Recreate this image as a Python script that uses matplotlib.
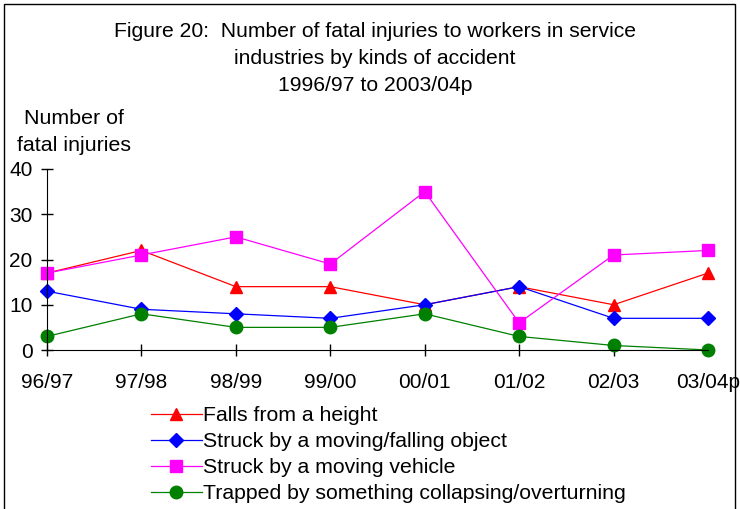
import numpy as np
import matplotlib.pyplot as plt
from matplotlib.patches import Rectangle

years = ['96/97', '97/98', '98/99', '99/00', '00/01', '01/02', '02/03', '03/04p']
falls = [17, 22, 14, 14, 10, 14, 10, 17]
struck_object = [13, 9, 8, 7, 10, 14, 7, 7]
struck_vehicle = [17, 21, 25, 19, 35, 6, 21, 22]
trapped = [3, 8, 5, 5, 8, 3, 1, 0]

plt.rcParams['font.family'] = ['Liberation Sans', 'DejaVu Sans']

fig = plt.figure(figsize=(7.4, 5.09), dpi=100)
ax = fig.add_axes([47/740, 1-350/509, (708-47)/740, (350-169)/509])

x = np.arange(len(years))
ax.plot(x, falls, color='red', marker='^', markersize=9, lw=0.9, clip_on=False,
        label='Falls from a height')
ax.plot(x, struck_object, color='blue', marker='D', markersize=7.5, lw=0.9, clip_on=False,
        label='Struck by a moving/falling object')
ax.plot(x, struck_vehicle, color='magenta', marker='s', markersize=9, lw=0.9, clip_on=False,
        label='Struck by a moving vehicle')
ax.plot(x, trapped, color='green', marker='o', markersize=9, lw=0.9, clip_on=False,
        label='Trapped by something collapsing/overturning')

ax.set_xlim(0, 7)
ax.set_ylim(0, 40)
ax.set_xticks(x)
ax.set_xticklabels(years)
ax.set_yticks([0, 10, 20, 30, 40])
ax.spines['top'].set_visible(False)
ax.spines['right'].set_visible(False)
ax.tick_params(axis='both', direction='inout', length=9, width=1, labelsize=15)
ax.tick_params(axis='x', pad=12)
ax.tick_params(axis='y', pad=6)

fig.text(375/740, 1-58.5/509,
         'Figure 20:  Number of fatal injuries to workers in service\n'
         'industries by kinds of accident\n1996/97 to 2003/04p',
         ha='center', va='center', fontsize=15.2, linespacing=1.55)
fig.text(74/740, 1-132/509, 'Number of\nfatal injuries', ha='center', va='center',
         fontsize=15.4, linespacing=1.5)

fig.legend(loc='upper left', bbox_to_anchor=(142/740, 1-397.5/509), frameon=False,
           fontsize=15.3, handlelength=2.4, handletextpad=0.08, labelspacing=0.33,
           borderaxespad=0)

fig.patches.append(Rectangle((4/740, -0.1), (735-4)/740, 1.1-4/509, fill=False,
                             edgecolor='black', lw=1, transform=fig.transFigure))

plt.savefig('out.png', dpi=100)
